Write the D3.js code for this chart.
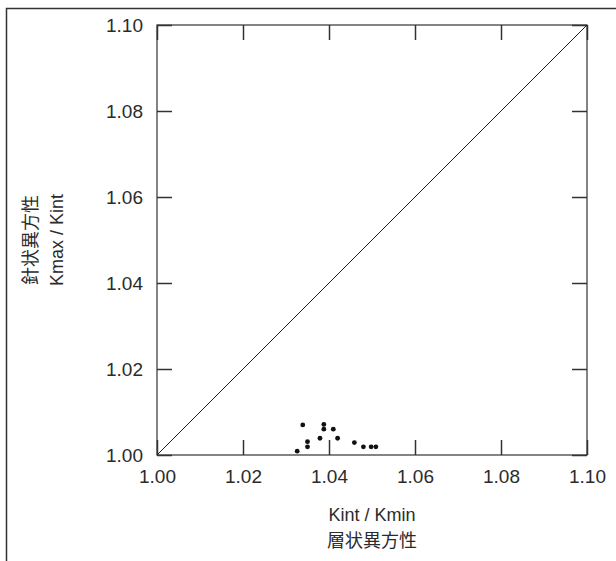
<!DOCTYPE html>
<html>
<head>
<meta charset="utf-8">
<script src="https://cdn.jsdelivr.net/npm/d3@7"></script>
<style>
  body { margin: 0; background: #fff; }
  text { font-family: "Liberation Sans", Arial, sans-serif; fill: #2b2b2b; }
</style>
</head>
<body>
<div id="chart"></div>
<script>
// data
var xValues = [1.0326, 1.0339, 1.0350, 1.0350, 1.0379, 1.0388, 1.0388, 1.0410, 1.0420, 1.0459, 1.0480, 1.0498, 1.0509];
var yValues = [1.0009, 1.0070, 1.0031, 1.0019, 1.0039, 1.0071, 1.0060, 1.0060, 1.0039, 1.0029, 1.0019, 1.0019, 1.0019];
var tickValues = [1.00, 1.02, 1.04, 1.06, 1.08, 1.10];
var xTitle = ['Kint / Kmin', '層状異方性'];
var yTitle = ['針状異方性', 'Kmax / Kint'];

var margin = {top: 25, right: 29, bottom: 106, left: 157},
    width = 430,
    height = 430;

var svg = d3.select('#chart').append('svg')
    .attr('width', 616)
    .attr('height', 561);

// outer frame (runs off the right and bottom of the image)
svg.append('rect')
    .attr('x', 6.5).attr('y', 8.5)
    .attr('width', 700).attr('height', 700)
    .attr('fill', 'none')
    .attr('stroke', '#333')
    .attr('stroke-width', 1.5);

var g = svg.append('g')
    .attr('transform', 'translate(' + margin.left + ',' + margin.top + ')');

var x = d3.scaleLinear().domain([1.00, 1.10]).range([0, width]);
var y = d3.scaleLinear().domain([1.00, 1.10]).range([height, 0]);

var fmt = d3.format('.2f');

// box with inward ticks on all sides
g.append('rect')
    .attr('width', width).attr('height', height)
    .attr('fill', 'none')
    .attr('stroke', '#333')
    .attr('stroke-width', 1.2);

function styleAxis(sel) {
  sel.select('.domain').remove();
  sel.selectAll('.tick line').attr('stroke', '#333').attr('stroke-width', 1.5);
  sel.selectAll('.tick text').attr('font-size', '19px').attr('fill', '#2b2b2b')
     .style('font-family', '"Liberation Sans", Arial, sans-serif');
}

g.append('g')
    .attr('transform', 'translate(0,' + height + ')')
    .call(d3.axisBottom(x).tickValues(tickValues).tickFormat(fmt).tickSizeInner(-15).tickPadding(15))
    .call(styleAxis);

g.append('g')
    .call(d3.axisLeft(y).tickValues(tickValues).tickFormat(fmt).tickSizeInner(-15).tickPadding(14))
    .call(styleAxis);

g.append('g')
    .call(d3.axisTop(x).tickValues(tickValues).tickFormat('').tickSizeInner(-15))
    .call(styleAxis);

g.append('g')
    .attr('transform', 'translate(' + width + ',0)')
    .call(d3.axisRight(y).tickValues(tickValues).tickFormat('').tickSizeInner(-15))
    .call(styleAxis);

// 1:1 line
g.append('line')
    .attr('x1', x(1.00)).attr('y1', y(1.00))
    .attr('x2', x(1.10)).attr('y2', y(1.10))
    .attr('stroke', '#222')
    .attr('stroke-width', 1);

// points
g.selectAll('circle')
    .data(xValues)
    .enter().append('circle')
    .attr('cx', function(d) { return x(d); })
    .attr('cy', function(d, i) { return y(yValues[i]); })
    .attr('r', 2.4)
    .attr('fill', '#111');

// axis titles
g.selectAll('.xtitle')
    .data(xTitle)
    .enter().append('text')
    .attr('class', 'xtitle')
    .attr('x', width / 2)
    .attr('y', function(d, i) { return height + 66 + i * 26; })
    .attr('text-anchor', 'middle')
    .attr('font-size', '18px')
    .style('font-family', function(d, i) { return i == 1 ? '"Noto Sans CJK JP", sans-serif' : null; })
    .text(function(d) { return d; });

g.selectAll('.ytitle')
    .data(yTitle)
    .enter().append('text')
    .attr('class', 'ytitle')
    .attr('transform', function(d, i) {
      return 'translate(' + (-120 + i * 26) + ',' + (height / 2) + ') rotate(-90)';
    })
    .attr('text-anchor', 'middle')
    .attr('font-size', '18px')
    .style('font-family', function(d, i) { return i == 0 ? '"Noto Sans CJK JP", sans-serif' : null; })
    .text(function(d) { return d; });
</script>
</body>
</html>
